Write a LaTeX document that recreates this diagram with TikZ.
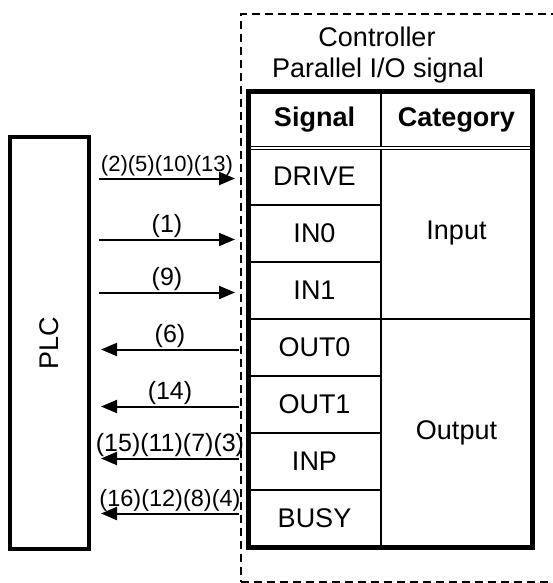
\documentclass[tikz,border=0pt]{standalone}
\usepackage{fontspec}
\setmainfont{Liberation Sans}
\usetikzlibrary{positioning,arrows.meta,calc}

\begin{document}
\begin{tikzpicture}[x=1pt, y=-1pt, >={Triangle[length=16pt,width=13pt]},
  node distance=0pt,
  every node/.style={font=\fontsize{27}{32}\selectfont, inner sep=0pt},
  cell/.style={draw, line width=1.8pt, outer sep=0pt, minimum width=133pt, minimum height=57pt},
  wire/.style={line width=2pt},
  numlabel/.style={font=\fontsize{25}{28}\selectfont, above=1pt}]
  \useasboundingbox (0,0) rectangle (552,583);

  % controller frame
  \node[draw, dashed, dash pattern=on 8pt off 5pt, line width=1.8pt, anchor=north west,
    minimum width=330pt, minimum height=568pt] (ctrl) at (240,13) {};
  \node (ctrlname) at (377,37) {Controller};
  \node (pio) at (378,71) {Parallel I/O signal};

  % table
  \node[cell, minimum height=56pt] (sighdr) at (314.5,120) {\bfseries Signal};
  \node[cell, minimum width=151pt, minimum height=56pt, right=of sighdr] (cathdr) {\bfseries Category};
  \node[cell, below=of sighdr] (drive) {DRIVE};
  \node[cell, below=of drive] (in0) {IN0};
  \node[cell, below=of in0] (in1) {IN1};
  \node[cell, below=of in1] (out0) {OUT0};
  \node[cell, below=of out0] (out1) {OUT1};
  \node[cell, below=of out1] (inp) {INP};
  \node[cell, below=of inp] (busy) {BUSY};
  \draw[line width=1.8pt] (drive.north east) rectangle (cathdr.east |- in1.south);
  \draw[line width=1.8pt] (out0.north east) rectangle (cathdr.east |- busy.south);
  \node (input) at ($(drive.north east)!0.5!(cathdr.east |- in1.south)$) {Input};
  \node (output) at ($(out0.north east)!0.5!(cathdr.east |- busy.south)$) {Output};
  \draw[line width=1.2pt, double, double distance=2pt] (sighdr.south west) -- (cathdr.south east);
  \draw[line width=5pt] (sighdr.north west) rectangle (cathdr.east |- busy.south);

  % PLC
  \node[draw, line width=4pt, outer sep=0pt, minimum width=79pt, minimum height=412pt] (plc)
    at (49.5,343) {\rotatebox{90}{PLC}};

  % signals
  \draw[wire, ->] ($(plc.east |- drive)+(10,2)$) -- node[numlabel, font=\fontsize{22}{24}\selectfont] {(2)(5)(10)(13)} ($(ctrl.west |- drive)+(-5,2)$);
  \draw[wire, ->] ($(plc.east |- in0)+(10,6)$) -- node[numlabel] {(1)} ($(ctrl.west |- in0)+(-5,6)$);
  \draw[wire, ->] ($(plc.east |- in1)+(10,2)$) -- node[numlabel] {(9)} ($(ctrl.west |- in1)+(-5,2)$);
  \draw[wire, <-] ($(plc.east |- out0)+(12,2)$) -- node[numlabel] {(6)} ($(ctrl.west |- out0)+(-1,2)$);
  \draw[wire, <-] ($(plc.east |- out1)+(12,2)$) -- node[numlabel] {(14)} ($(ctrl.west |- out1)+(-1,2)$);
  \draw[wire, <-] ($(plc.east |- inp)+(12,-3)$) -- node[numlabel] {(15)(11)(7)(3)} ($(ctrl.west |- inp)+(-1,-3)$);
  \draw[wire, <-] ($(plc.east |- busy)+(12,-5)$) -- node[numlabel, font=\fontsize{23.5}{26}\selectfont] {(16)(12)(8)(4)} ($(ctrl.west |- busy)+(-1,-5)$);
\end{tikzpicture}
\end{document}
